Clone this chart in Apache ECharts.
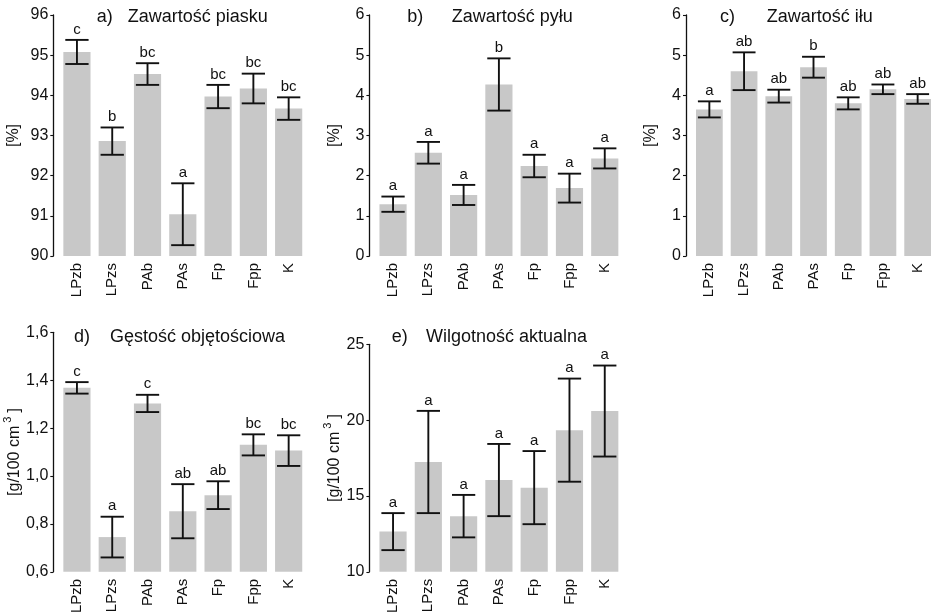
<!DOCTYPE html>
<html><head><meta charset="utf-8">
<script src="https://cdn.jsdelivr.net/npm/echarts@6/dist/echarts.min.js"></script>
<style>html,body{margin:0;padding:0;background:#fff}#c{width:935px;height:616px}</style>
</head><body><div id="c"></div>
<script>
const categories = ['LPzb', 'LPzs', 'PAb', 'PAs', 'Fp', 'Fpp', 'K'];

const sandMean = [95.08, 92.86, 94.53, 91.04, 93.97, 94.17, 93.67];
const sandSe = [0.30, 0.34, 0.27, 0.77, 0.29, 0.37, 0.28];
const sandLetters = ['c', 'b', 'bc', 'a', 'bc', 'bc', 'bc'];
const sandTicks = ['90', '91', '92', '93', '94', '95', '96'];

const siltMean = [1.29, 2.57, 1.52, 4.27, 2.24, 1.69, 2.43];
const siltSe = [0.19, 0.27, 0.25, 0.65, 0.28, 0.36, 0.25];
const siltLetters = ['a', 'a', 'a', 'b', 'a', 'a', 'a'];
const siltTicks = ['0', '1', '2', '3', '4', '5', '6'];

const clayMean = [3.65, 4.60, 3.98, 4.70, 3.80, 4.15, 3.91];
const claySe = [0.20, 0.47, 0.16, 0.26, 0.15, 0.12, 0.12];
const clayLetters = ['a', 'ab', 'ab', 'b', 'ab', 'ab', 'ab'];
const clayTicks = ['0', '1', '2', '3', '4', '5', '6'];

const densityMean = [1.368, 0.745, 1.303, 0.853, 0.920, 1.130, 1.106];
const densitySe = [0.024, 0.085, 0.036, 0.113, 0.058, 0.044, 0.064];
const densityLetters = ['c', 'a', 'c', 'ab', 'ab', 'bc', 'bc'];
const densityTicks = ['0,6', '0,8', '1,0', '1,2', '1,4', '1,6'];

const moistureMean = [12.65, 17.24, 13.67, 16.05, 15.55, 19.34, 20.6];
const moistureSe = [1.22, 3.37, 1.40, 2.38, 2.41, 3.40, 3.0];
const moistureLetters = ['a', 'a', 'a', 'a', 'a', 'a', 'a'];
const moistureTicks = ['10', '15', '20', '25'];

const FONT = '"Liberation Sans", Arial, sans-serif';
const INK = '#111111';

const panels = [
  {grid: {left: 59.3, top: 15, width: 247, height: 241}, mean: sandMean, se: sandSe, letters: sandLetters, ticks: sandTicks,
   name: '{m|[%]}', nameGap: 32, tag: 'a)', title: 'Zawartość piasku', tagX: 96.7, titleX: 127.7, titleY: 17.5},
  {grid: {left: 375.4, top: 15, width: 247, height: 241}, mean: siltMean, se: siltSe, letters: siltLetters, ticks: siltTicks,
   name: '{m|[%]}', nameGap: 27, tag: 'b)', title: 'Zawartość pyłu', tagX: 407.3, titleX: 451.7, titleY: 17.5},
  {grid: {left: 692, top: 15, width: 247, height: 241}, mean: clayMean, se: claySe, letters: clayLetters, ticks: clayTicks,
   name: '{m|[%]}', nameGap: 27, tag: 'c)', title: 'Zawartość iłu', tagX: 720, titleX: 766.7, titleY: 17.5},
  {grid: {left: 59.3, top: 332.3, width: 247, height: 240.4}, mean: densityMean, se: densitySe, letters: densityLetters, ticks: densityTicks,
   name: '{m|[g/100 cm}{s|3}{m|]}', nameGap: 25, tag: 'd)', title: 'Gęstość objętościowa', tagX: 74, titleX: 110, titleY: 337},
  {grid: {left: 375.4, top: 344.3, width: 247, height: 228.4}, mean: moistureMean, se: moistureSe, letters: moistureLetters, ticks: moistureTicks,
   name: '{m|[g/100 cm}{s|3}{m|]}', nameGap: 27, tag: 'e)', title: 'Wilgotność aktualna', tagX: 391.7, titleX: 426, titleY: 337}
];

const grids = [], xAxes = [], yAxes = [], series = [], graphics = [];
panels.forEach((p, i) => {
  const tickVals = p.ticks.map(t => parseFloat(t.replace(',', '.')));
  const minV = tickVals[0], maxV = tickVals[tickVals.length - 1];
  const step = Math.round((tickVals[1] - tickVals[0]) * 1000) / 1000;
  const hasSup = p.name.indexOf('{s|') >= 0;
  grids.push(p.grid);
  xAxes.push({
    type: 'category', gridIndex: i, data: categories,
    axisLine: {show: false}, axisTick: {show: false}, splitLine: {show: false},
    axisLabel: {rotate: 90, interval: 0, fontSize: 15, fontFamily: FONT, color: INK, margin: 7}
  });
  yAxes.push({
    type: 'value', gridIndex: i, min: minV, max: maxV, interval: step, offset: 6,
    axisLine: {show: true, lineStyle: {color: INK, width: 1.3}},
    axisTick: {show: true, length: 3, lineStyle: {color: INK, width: 1.1}},
    splitLine: {show: false},
    axisLabel: {fontSize: 16, fontFamily: FONT, color: INK, margin: 5,
      formatter: (v) => { const k = Math.round((v - minV) / step); return p.ticks[k] !== undefined ? p.ticks[k] : ''; }},
    name: p.name, nameLocation: 'middle', nameGap: p.nameGap, nameRotate: 90,
    nameTextStyle: {fontSize: 16, fontFamily: FONT, color: INK,
      rich: {
        m: {fontSize: 16, fontFamily: FONT, color: INK, lineHeight: hasSup ? 20 : 18, verticalAlign: 'bottom'},
        s: {fontSize: 11, fontFamily: FONT, color: INK, lineHeight: 12, verticalAlign: 'top', padding: [0, 4, 0, 3]}
      }}
  });
  series.push({
    type: 'bar', xAxisIndex: i, yAxisIndex: i, data: p.mean, barWidth: '77%', silent: true,
    itemStyle: {color: '#c8c8c8'}
  });
  series.push({
    type: 'custom', xAxisIndex: i, yAxisIndex: i, silent: true, z: 5,
    data: p.mean.map((m, j) => [j, m, p.se[j]]),
    renderItem: (params, api) => {
      const idx = api.value(0), m = api.value(1), s = api.value(2);
      const top = api.coord([idx, m + s]);
      const bot = api.coord([idx, m - s]);
      const half = api.size([1, 0])[0] * 0.33;
      const ls = {stroke: INK, lineWidth: 1.9};
      return {type: 'group', children: [
        {type: 'line', shape: {x1: top[0], y1: top[1], x2: bot[0], y2: bot[1]}, style: ls},
        {type: 'line', shape: {x1: top[0] - half, y1: top[1], x2: top[0] + half, y2: top[1]}, style: ls},
        {type: 'line', shape: {x1: bot[0] - half, y1: bot[1], x2: bot[0] + half, y2: bot[1]}, style: ls},
        {type: 'text', x: top[0], y: top[1] - 3, style: {text: p.letters[params.dataIndex], fill: INK,
          font: '15px ' + FONT, align: 'center', verticalAlign: 'bottom'}}
      ]};
    }
  });
  graphics.push({type: 'text', x: p.tagX, y: p.titleY, style: {text: p.tag, fill: INK, font: '18px ' + FONT, verticalAlign: 'middle'}});
  graphics.push({type: 'text', x: p.titleX, y: p.titleY, style: {text: p.title, fill: INK, font: '18px ' + FONT, verticalAlign: 'middle'}});
});

const chart = echarts.init(document.getElementById('c'), null, {renderer: 'canvas'});
chart.setOption({
  animation: false,
  backgroundColor: '#ffffff',
  grid: grids, xAxis: xAxes, yAxis: yAxes, series: series, graphic: graphics
});
</script>
</body></html>
